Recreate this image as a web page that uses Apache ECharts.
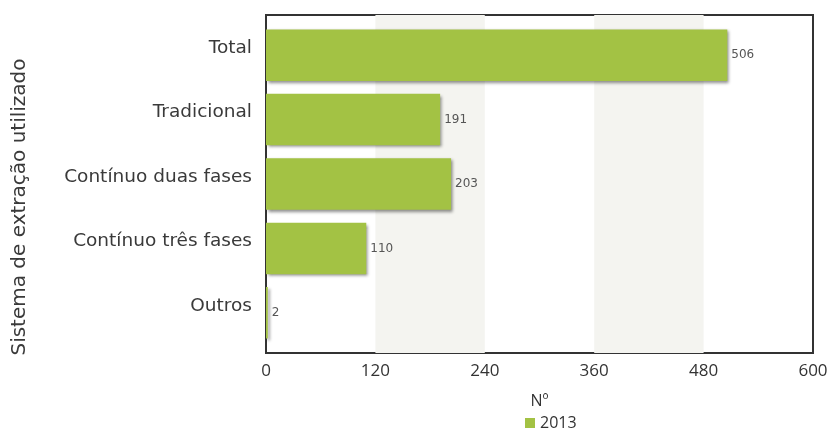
<!DOCTYPE html>
<html><head><meta charset="utf-8">
<script src="https://cdn.jsdelivr.net/npm/echarts@6/dist/echarts.min.js"></script>
<style>html,body{margin:0;padding:0;background:#fff}#c{width:834px;height:432px}</style>
</head><body><div id="c"></div>
<script>
const categories = ["Total", "Tradicional", "Contínuo duas fases", "Contínuo três fases", "Outros"];
const values2013 = [506, 191, 203, 110, 2];
const xTicks = [0, 120, 240, 360, 480, 600];
const seriesName = "2013";

const xMin = xTicks[0], xMax = xTicks[xTicks.length - 1], xStep = xTicks[1] - xTicks[0];
const chart = echarts.init(document.getElementById('c'));
chart.setOption({
  animation: false,
  textStyle: { fontFamily: "DejaVu Sans" },
  legend: {
    data: [seriesName], top: 410, left: 520, itemWidth: 10, itemHeight: 10, icon: 'rect',
    itemGap: 5, textStyle: { fontSize: 16, color: '#333', fontFamily: 'Open Sans' }
  },
  grid: [
    { left: 266, right: 21, top: 15, bottom: 79, show: true, borderColor: '#333', borderWidth: 2, backgroundColor: 'transparent' },
    { left: 266, right: 21, top: 23, bottom: 87 }
  ],
  xAxis: [{
    gridIndex: 0, type: 'value', min: xMin, max: xMax, interval: xStep,
    name: 'Nº', nameLocation: 'middle', nameGap: 40,
    nameTextStyle: { fontSize: 16, color: '#333', fontFamily: 'Open Sans' },
    axisLine: { show: false }, axisTick: { show: false },
    axisLabel: { fontSize: 17, color: '#333', margin: 10, fontFamily: 'Open Sans' },
    splitLine: { show: false },
    splitArea: { show: true, areaStyle: { color: ['rgba(255,255,255,0)', '#f4f4f0'] } }
  }, {
    gridIndex: 1, type: 'value', min: xMin, max: xMax, show: false
  }],
  yAxis: [{
    gridIndex: 0, type: 'category', data: categories, show: false
  }, {
    gridIndex: 1, type: 'category', data: categories, inverse: true,
    name: 'Sistema de extração utilizado', nameLocation: 'middle', nameGap: 236, nameRotate: 90,
    nameTextStyle: { fontSize: 20, color: '#3a3a3a', padding: [0, 46, 0, 0] },
    axisLine: { show: false }, axisTick: { show: false },
    axisLabel: { fontSize: 18.5, color: '#3a3a3a', margin: 14, verticalAlign: 'bottom', lineHeight: 14 }
  }],
  series: [{
    name: seriesName, type: 'bar', xAxisIndex: 1, yAxisIndex: 1, data: values2013, barWidth: '80%',
    itemStyle: { color: '#a3c244', shadowColor: 'rgba(0,0,0,0.45)', shadowBlur: 3, shadowOffsetX: 2, shadowOffsetY: 2 },
    label: { show: true, position: 'right', distance: 4, fontSize: 12, color: '#555' }
  }]
});
</script></body></html>
